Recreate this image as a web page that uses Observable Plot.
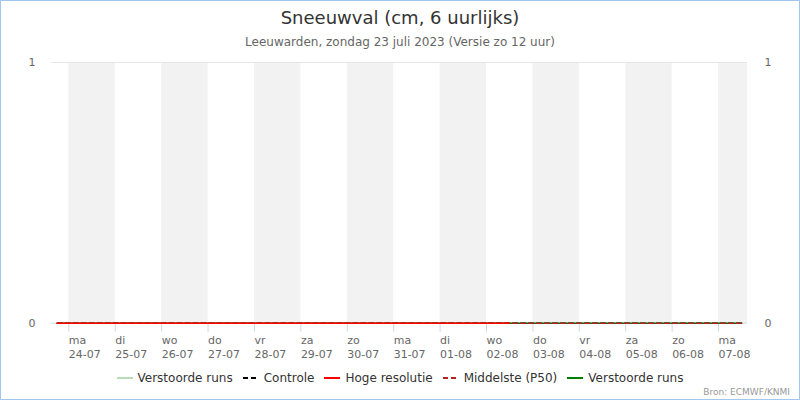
<!DOCTYPE html>
<html>
<head>
<meta charset="utf-8">
<script src="https://cdn.jsdelivr.net/npm/d3@7"></script>
<script src="https://cdn.jsdelivr.net/npm/@observablehq/plot@0.6"></script>
<style>
  html, body { margin: 0; padding: 0; background: #fff; }
  #wrap { position: relative; width: 800px; height: 400px; box-sizing: border-box; border: 1px solid #a3c6ef; font-family: "DejaVu Sans", sans-serif; overflow: hidden; }
  #title { position: absolute; top: 6px; left: 0; width: 100%; text-align: center; font-size: 18px; color: #333; }
  #subtitle { position: absolute; top: 34px; left: 0; width: 100%; text-align: center; font-size: 12px; color: #666; }
  #chart { position: absolute; top: 49px; left: -1px; }
  #legend { position: absolute; top: 370px; left: 0; width: 100%; display: flex; justify-content: center; font-size: 12px; color: #333; }
  .item { display: flex; align-items: center; margin: 0 5px; }
  .item svg { margin-right: 5px; }
  #credit { position: absolute; right: 9px; bottom: 2px; font-size: 9px; color: #999; }
</style>
</head>
<body>
<div id="wrap">
  <div id="title">Sneeuwval (cm, 6 uurlijks)</div>
  <div id="subtitle">Leeuwarden, zondag 23 juli 2023 (Versie zo 12 uur)</div>
  <div id="chart"></div>
  <div id="legend"></div>
  <div id="credit">Bron: ECMWF/KNMI</div>
</div>
<script>
// ---- data ----
const domainStart = "2023-07-23T15:00Z";
const domainEnd = "2023-08-07T15:00Z";
const dayTicks = ["2023-07-24","2023-07-25","2023-07-26","2023-07-27","2023-07-28","2023-07-29","2023-07-30","2023-07-31","2023-08-01","2023-08-02","2023-08-03","2023-08-04","2023-08-05","2023-08-06","2023-08-07"];
const dayNames = ["ma","di","wo","do","vr","za","zo","ma","di","wo","do","vr","za","zo","ma"];
const dayDates = ["24-07","25-07","26-07","27-07","28-07","29-07","30-07","31-07","01-08","02-08","03-08","04-08","05-08","06-08","07-08"];
const grayBands = ["2023-07-24","2023-07-26","2023-07-28","2023-07-30","2023-08-01","2023-08-03","2023-08-05","2023-08-07"];
const yTicks = [0, 1];

// 6-hourly series: ensemble from 23-07 18:00 to 07-08 12:00, HRES to 02-08 12:00
const ensStart = "2023-07-23T18:00Z";
const ensEnd = "2023-08-07T12:00Z";
const hresEnd = "2023-08-02T12:00Z";
const ensMembers = [0,0,0,0,0,0,0,0,0,0,0,0,0,0,0,0,0,0,0,0,0,0,0,0,0,0,0,0,0,0,0,0,0,0,0,0,0,0,0,0,0,0,0,0,0,0,0,0,0,0,0,0,0,0,0,0,0,0,0,0];
const controle  = [0,0,0,0,0,0,0,0,0,0,0,0,0,0,0,0,0,0,0,0,0,0,0,0,0,0,0,0,0,0,0,0,0,0,0,0,0,0,0,0,0,0,0,0,0,0,0,0,0,0,0,0,0,0,0,0,0,0,0,0];
const verstoord = [0,0,0,0,0,0,0,0,0,0,0,0,0,0,0,0,0,0,0,0,0,0,0,0,0,0,0,0,0,0,0,0,0,0,0,0,0,0,0,0,0,0,0,0,0,0,0,0,0,0,0,0,0,0,0,0,0,0,0,0];
const p50       = [0,0,0,0,0,0,0,0,0,0,0,0,0,0,0,0,0,0,0,0,0,0,0,0,0,0,0,0,0,0,0,0,0,0,0,0,0,0,0,0,0,0,0,0,0,0,0,0,0,0,0,0,0,0,0,0,0,0,0,0];
const hres      = [0,0,0,0,0,0,0,0,0,0,0,0,0,0,0,0,0,0,0,0,0,0,0,0,0,0,0,0,0,0,0,0,0,0,0,0,0,0,0,0];

// ---- build ----
const ensTimes = d3.utcHour.every(6).range(new Date(ensStart), d3.utcHour.offset(new Date(ensEnd), 1));
const hresTimes = d3.utcHour.every(6).range(new Date(ensStart), d3.utcHour.offset(new Date(hresEnd), 1));
const toRows = (times, vals) => vals.map((v, i) => ({t: times[i], v}));
const ticks = dayTicks.map(d => new Date(d + "T00:00Z"));
const labels = ticks.map((t, i) => ({t, label: dayNames[i] + "\n" + dayDates[i]}));
const dEnd = new Date(domainEnd);
const bands = grayBands.map(d => {
  const s = new Date(d + "T00:00Z");
  const e = d3.utcDay.offset(s, 1);
  return {x1: s, x2: e < dEnd ? e : dEnd};
});

const series = [
  {name: "Verstoorde runs", stroke: "#b5dcb5", dash: null, data: toRows(ensTimes, ensMembers)},
  {name: "Controle", stroke: "#000000", dash: "5,3", data: toRows(ensTimes, controle)},
  {name: "Verstoorde runs", stroke: "#008000", dash: null, data: toRows(ensTimes, verstoord)},
  {name: "Middelste (P50)", stroke: "#b22222", dash: "5,3", data: toRows(ensTimes, p50)},
  {name: "Hoge resolutie", stroke: "#ff0000", dash: null, data: toRows(hresTimes, hres)}
];

const chart = Plot.plot({
  width: 800,
  height: 340,
  marginTop: 12,
  marginBottom: 67,
  marginLeft: 51,
  marginRight: 52,
  style: {fontFamily: "DejaVu Sans, sans-serif", fontSize: "11px", color: "#666", background: "transparent"},
  x: {type: "utc", domain: [new Date(domainStart), dEnd]},
  y: {domain: [0, 1]},
  marks: [
    Plot.rect(bands, {x1: "x1", x2: "x2", y1: 0, y2: 1, fill: "#f2f2f2"}),
    Plot.ruleY([1], {stroke: "#e6e6e6"}),
    Plot.ruleY([0], {stroke: "#ccd6eb"}),
    Plot.axisX({ticks, tickSize: 9, tickFormat: () => "", stroke: "#ccd6eb", strokeOpacity: 1, label: null}),
    Plot.text(labels, {x: "t", text: "label", frameAnchor: "bottom", textAnchor: "start", lineAnchor: "top", lineHeight: 1.27, dx: 0, dy: 11, fill: "#666", fontSize: 11}),
    Plot.axisY({anchor: "left", ticks: yTicks, tickFormat: d3.format("d"), tickSize: 0, tickPadding: 16, label: null, fill: "#666"}),
    Plot.axisY({anchor: "right", ticks: yTicks, tickFormat: d3.format("d"), tickSize: 0, tickPadding: 17, label: null, fill: "#666"}),
    ...series.map(s => Plot.line(s.data, {x: "t", y: "v", stroke: s.stroke, strokeWidth: 1.5, strokeDasharray: s.dash}))
  ]
});
document.getElementById("chart").appendChild(chart);

// legend
const legendOrder = [series[0], series[1], series[4], series[3], series[2]];
const leg = document.getElementById("legend");
legendOrder.forEach(s => {
  const it = document.createElement("div");
  it.className = "item";
  it.innerHTML = `<svg width="16" height="12"><line x1="0" x2="16" y1="6" y2="6" stroke="${s.stroke}" stroke-width="2" ${s.dash ? 'stroke-dasharray="5,3"' : ''}/></svg><span>${s.name}</span>`;
  leg.appendChild(it);
});
</script>
</body>
</html>
